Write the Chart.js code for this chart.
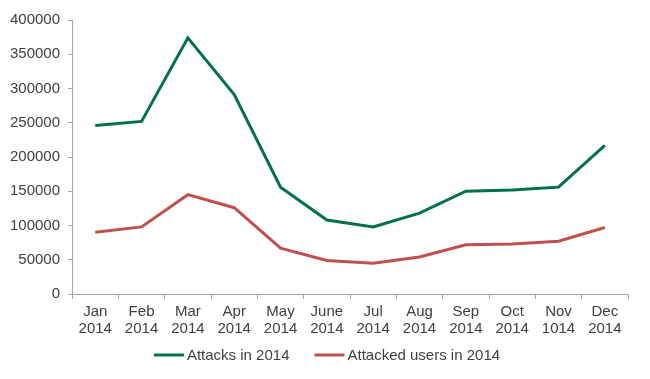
<!DOCTYPE html>
<html>
<head>
<meta charset="utf-8">
<script src="https://cdn.jsdelivr.net/npm/chart.js@4"></script>
<style>
html,body{margin:0;padding:0;background:#fff;}
#wrap{width:650px;height:379px;}
</style>
</head>
<body>
<div id="wrap"><canvas id="c" width="650" height="379"></canvas></div>
<script>
const categories = [["Jan","2014"],["Feb","2014"],["Mar","2014"],["Apr","2014"],["May","2014"],["June","2014"],["Jul","2014"],["Aug","2014"],["Sep","2014"],["Oct","2014"],["Nov","1014"],["Dec","2014"]];
const attacks = [246000, 252000, 374000, 291000, 156000, 108000, 98000, 118000, 150000, 152000, 156000, 217000];
const attackedUsers = [90000, 98000, 145000, 126000, 67000, 49000, 45000, 54000, 72000, 73000, 77000, 97000];
const seriesNames = ["Attacks in 2014", "Attacked users in 2014"];
const seriesColors = ['#00704f', '#c0504d'];

const axisColor = '#a6a6a6';
const textColor = '#404040';
const fontFamily = '"Liberation Sans", Arial, sans-serif';
const font = {family: fontFamily, size: 15, lineHeight: 1.1};

const bottomLegend = {
  id: 'bottomLegend',
  afterDraw(chart) {
    const ctx = chart.ctx;
    ctx.save();
    ctx.font = '15px ' + fontFamily;
    const lineW = 30, gapText = 3, gapItem = 25;
    const items = chart.data.datasets.map(d => ({label: d.label, color: d.borderColor, w: lineW + gapText + ctx.measureText(d.label).width}));
    const total = items.reduce((s, it) => s + it.w, 0) + gapItem * (items.length - 1);
    let x = 327 - total / 2;
    const y = 355;
    ctx.textBaseline = 'middle';
    ctx.textAlign = 'left';
    items.forEach(it => {
      ctx.strokeStyle = it.color;
      ctx.lineWidth = 3;
      ctx.beginPath();
      ctx.moveTo(x, y);
      ctx.lineTo(x + lineW, y);
      ctx.stroke();
      ctx.fillStyle = textColor;
      ctx.fillText(it.label, x + lineW + gapText, y + 1);
      x += it.w + gapItem;
    });
    ctx.restore();
  }
};

new Chart(document.getElementById('c'), {
  type: 'line',
  data: {
    labels: categories,
    datasets: [
      {label: seriesNames[0], data: attacks, borderColor: seriesColors[0], backgroundColor: seriesColors[0], borderWidth: 3, pointRadius: 0, tension: 0, fill: false},
      {label: seriesNames[1], data: attackedUsers, borderColor: seriesColors[1], backgroundColor: seriesColors[1], borderWidth: 3, pointRadius: 0, tension: 0, fill: false}
    ]
  },
  plugins: [bottomLegend],
  options: {
    responsive: false,
    animation: false,
    devicePixelRatio: 1,
    layout: {padding: {left: 2, right: 22, top: 20, bottom: 37}},
    plugins: {
      tooltip: {enabled: false},
      legend: {display: false}
    },
    scales: {
      x: {
        offset: true,
        grid: {offset: true, drawOnChartArea: false, drawTicks: true, tickLength: 5, color: axisColor},
        border: {display: true, color: axisColor, width: 1},
        ticks: {color: textColor, font: font, maxRotation: 0, autoSkip: false, padding: 5}
      },
      y: {
        min: 0,
        max: 400000,
        grid: {drawOnChartArea: false, drawTicks: true, tickLength: 4, color: axisColor},
        border: {display: true, color: axisColor, width: 1},
        ticks: {stepSize: 50000, color: textColor, font: font, padding: 8, callback: v => String(v)}
      }
    }
  }
});
</script>
</body>
</html>
